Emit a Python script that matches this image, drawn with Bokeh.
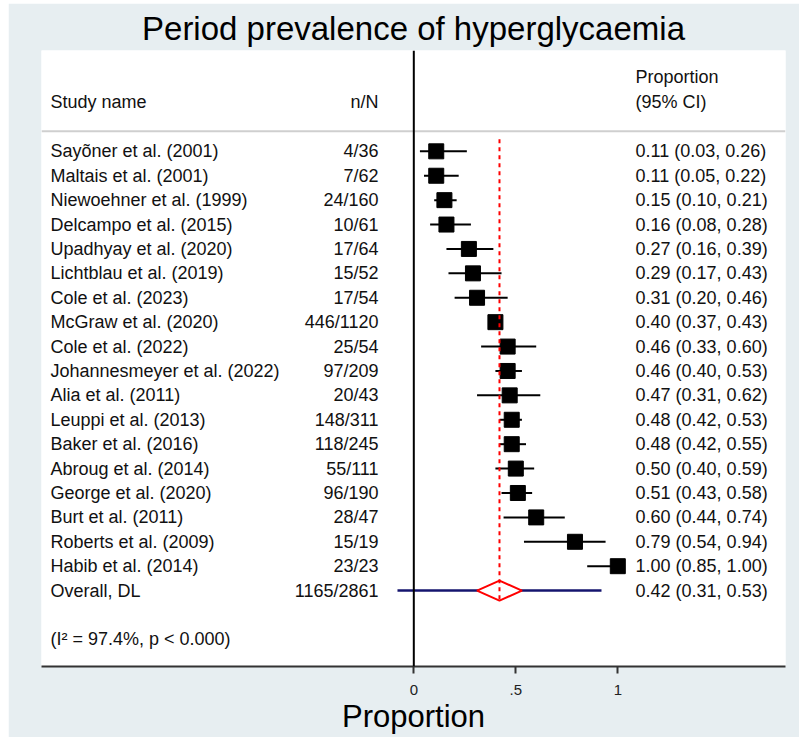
from bokeh.plotting import figure
from bokeh.models import Range1d, Span, FixedTicker, ColumnDataSource
from bokeh.core.properties import value
from bokeh.embed import file_html
from bokeh.resources import INLINE

# ---- data ----
studies = ["Sayõner et al. (2001)", "Maltais et al. (2001)", "Niewoehner et al. (1999)",
           "Delcampo et al. (2015)", "Upadhyay et al.  (2020)", "Lichtblau et al. (2019)",
           "Cole et al. (2023)", "McGraw et al.  (2020)", "Cole et al. (2022)",
           "Johannesmeyer et al. (2022)", "Alia et al. (2011)", "Leuppi et al. (2013)",
           "Baker et al. (2016)", "Abroug  et al. (2014)", "George et al. (2020)",
           "Burt et al. (2011)", "Roberts et al. (2009)", "Habib et al. (2014)"]
events = [4, 7, 24, 10, 17, 15, 17, 446, 25, 97, 20, 148, 118, 55, 96, 28, 15, 23]
totals = [36, 62, 160, 61, 64, 52, 54, 1120, 54, 209, 43, 311, 245, 111, 190, 47, 19, 23]
est = [0.11, 0.11, 0.15, 0.16, 0.27, 0.29, 0.31, 0.40, 0.46, 0.46, 0.47, 0.48, 0.48, 0.50, 0.51, 0.60, 0.79, 1.00]
lo = [0.03, 0.05, 0.10, 0.08, 0.16, 0.17, 0.20, 0.37, 0.33, 0.40, 0.31, 0.42, 0.42, 0.40, 0.43, 0.44, 0.54, 0.85]
hi = [0.26, 0.22, 0.21, 0.28, 0.39, 0.43, 0.46, 0.43, 0.60, 0.53, 0.62, 0.53, 0.55, 0.59, 0.58, 0.74, 0.94, 1.00]

overall_label = "Overall, DL"
overall_events = 1165
overall_total = 2861
overall_est = 0.42
overall_lo = 0.31
overall_hi = 0.53
pred_lo = -0.08
pred_hi = 0.92
heterogeneity = "(I² = 97.4%, p < 0.000)"

x_ticks = [0, 0.5, 1]
x_tick_labels = ["0", ".5", "1"]

# ---- layout constants ----
FONT = "Liberation Sans"
TXT = "18px"
X_NAME = -1.781
X_NN = -0.173
X_CI = 1.087

n = len(studies)
rows = list(range(1, n + 1))
overall_row = n + 1

p = figure(width=791, height=734, output_backend="svg", toolbar_location=None,
           margin=(3, 0, 0, 8),
           x_range=Range1d(-1.825, 1.822), y_range=Range1d(22.11, -3.132),
           y_axis_location=None, min_border_left=33, min_border_right=14,
           min_border_top=46, min_border_bottom=71,
           title="Period prevalence of hyperglycaemia")
p.border_fill_color = "#e7eef1"
p.background_fill_color = "white"
p.outline_line_color = None
p.grid.visible = False

p.title.text_font = FONT
p.title.text_font_size = "33px"
p.title.text_font_style = "normal"
p.title.text_color = "black"
p.title.align = "center"
p.title.standoff = 8

ax = p.xaxis[0]
ax.ticker = FixedTicker(ticks=x_ticks)
ax.major_label_overrides = {t: l for t, l in zip(x_ticks, x_tick_labels)}
ax.minor_tick_line_color = None
ax.major_tick_in = 0
ax.major_tick_out = 7
ax.axis_line_width = 2
ax.axis_line_color = "#333333"
ax.major_tick_line_width = 2
ax.major_tick_line_color = "#333333"
ax.major_label_text_font = FONT
ax.major_label_text_font_size = "15px"
ax.major_label_text_color = "#222222"
ax.major_label_standoff = 11
ax.axis_label = "Proportion"
ax.axis_label_text_font = FONT
ax.axis_label_text_font_size = "31px"
ax.axis_label_text_font_style = "normal"
ax.axis_label_text_color = "black"
ax.axis_label_standoff = 1

# separator and zero line
p.add_layout(Span(location=0.182, dimension="width", line_color="#cfcfcf", line_width=2))
p.add_layout(Span(location=0, dimension="height", line_color="black", line_width=2))

# study CIs and boxes
src = ColumnDataSource(dict(
    y=rows, est=est, lo=lo, hi=hi, name=studies,
    nn=[f"{a}/{b}" for a, b in zip(events, totals)],
    ci=[f"{e:.2f} ({l:.2f}, {h:.2f})" for e, l, h in zip(est, lo, hi)],
))
p.segment(x0="lo", x1="hi", y0="y", y1="y", source=src, line_color="black", line_width=2)
p.scatter(x="est", y="y", source=src, marker="square", size=15,
          fill_color="black", line_color="black")

# overall
p.segment(x0=[pred_lo], x1=[pred_hi], y0=[overall_row], y1=[overall_row],
          line_color="#14146e", line_width=2.5)
h = 0.41
p.patch(x=[overall_lo, overall_est, overall_hi, overall_est],
        y=[overall_row, overall_row - h, overall_row, overall_row + h],
        fill_color="white", line_color="#ff0000", line_width=2)
p.segment(x0=[overall_est], x1=[overall_est], y0=[0.5], y1=[overall_row + h],
          line_color="#ff0000", line_width=2, line_dash="4 4")

# text columns
tkw = dict(text_font=value(FONT), text_font_size=value(TXT), text_color="#111111",
           text_baseline="middle")
p.text(x=X_NAME, y="y", text="name", source=src, text_align="left", **tkw)
p.text(x=X_NN, y="y", text="nn", source=src, text_align="right", **tkw)
p.text(x=X_CI, y="y", text="ci", source=src, text_align="left", **tkw)

p.text(x=[X_NAME], y=[overall_row], text=[overall_label], text_align="left", **tkw)
p.text(x=[X_NN], y=[overall_row], text=[f"{overall_events}/{overall_total}"], text_align="right", **tkw)
p.text(x=[X_CI], y=[overall_row],
       text=[f"{overall_est:.2f} ({overall_lo:.2f}, {overall_hi:.2f})"], text_align="left", **tkw)
p.text(x=[X_NAME], y=[20.97], text=[heterogeneity], text_align="left", **tkw)

# headers
p.text(x=[X_NAME], y=[-1.04], text=["Study name"], text_align="left", **tkw)
p.text(x=[X_NN], y=[-1.04], text=["n/N"], text_align="right", **tkw)
p.text(x=[X_CI], y=[-2.06], text=["Proportion"], text_align="left", **tkw)
p.text(x=[X_CI], y=[-1.04], text=["(95% CI)"], text_align="left", **tkw)

open("out.html", "w").write(file_html(p, INLINE))
